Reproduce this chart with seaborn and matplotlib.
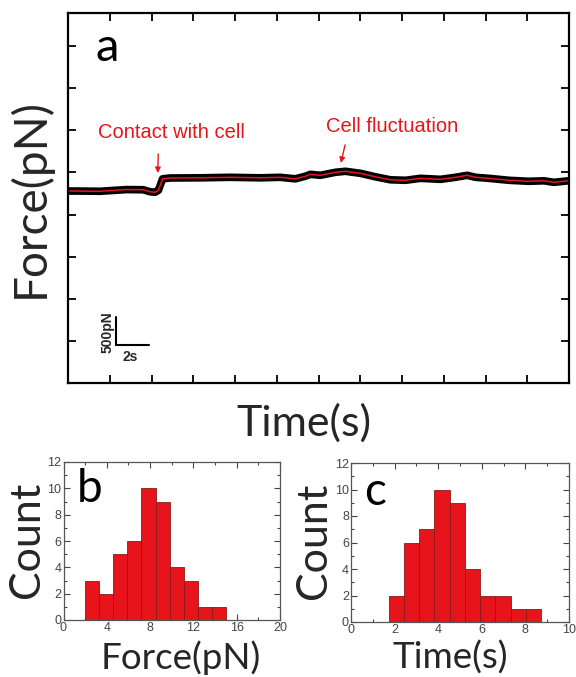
import numpy as np
import pandas as pd
import matplotlib
matplotlib.use("Agg")
import matplotlib.pyplot as plt
from matplotlib.ticker import MultipleLocator
import seaborn as sns

# ---- Panel a: force trace (smoothed level) ----
time_s = [0.0, 1.9, 3.5, 4.5, 4.9, 5.2, 5.4, 5.65, 6.1, 7.9, 9.7, 11.5, 12.7, 13.6,
          14.2, 14.5, 15.1, 16.0, 16.6, 17.5, 18.4, 19.3, 20.2, 21.1, 22.3, 23.2,
          23.9, 24.4, 25.2, 26.4, 27.6, 28.5, 29.1, 30.0]
force_pN = [3418, 3413, 3443, 3440, 3404, 3395, 3430, 3634, 3649, 3652, 3661, 3652,
            3661, 3634, 3680, 3714, 3697, 3750, 3768, 3732, 3670, 3617, 3608, 3643,
            3625, 3661, 3697, 3661, 3643, 3608, 3590, 3599, 3572, 3600]

# ---- Panel b: force histogram ----
force_edges = [2.0, 3.3, 4.6, 5.9, 7.2, 8.5, 9.8, 11.1, 12.4, 13.7, 15.0]
force_counts = [3, 2, 5, 6, 10, 9, 4, 3, 1, 1]

# ---- Panel c: time histogram ----
time_edges = [1.74, 2.44, 3.13, 3.83, 4.53, 5.22, 5.92, 6.62, 7.32, 8.02, 8.72]
time_counts = [2, 6, 7, 10, 9, 4, 2, 2, 1, 1]

sns.set_style("ticks")
plt.rcParams['font.family'] = ['Lato', 'DejaVu Sans']

W, H = 576, 677
fig = plt.figure(figsize=(W / 100, H / 100), dpi=100)

def box(l, t, r, b):
    return [l / W, 1 - b / H, (r - l) / W, (b - t) / H]

RED = '#e8141c'

# ================= Panel a =================
axa = fig.add_axes(box(68.3, 13.3, 569, 383.3))
df_a = pd.DataFrame({"t": time_s, "f": force_pN})
sns.lineplot(data=df_a, x="t", y="f", ax=axa, color="black", linewidth=5.5)
sns.lineplot(data=df_a, x="t", y="f", ax=axa, color=RED, linewidth=1.1)
axa.set_xlim(0, 30)
axa.set_ylim(0, 6576)
axa.xaxis.set_major_locator(MultipleLocator(2.5))
axa.yaxis.set_major_locator(MultipleLocator(750))
axa.tick_params(direction="in", length=6, width=1.3, top=True, right=True,
                labelbottom=False, labelleft=False, color="black")
for s in axa.spines.values():
    s.set_linewidth(1.6)
    s.set_color("black")
axa.set_xlabel("Time(s)", fontsize=31)
axa.xaxis.set_label_coords(0.47, -0.055, transform=axa.transAxes)
axa.xaxis.label.set_va("top")
axa.set_ylabel("Force(pN)", fontsize=33, labelpad=12)
axa.text(0.077, 0.907, "a", transform=axa.transAxes, fontsize=34,
         ha="center", va="center", color="black")

# annotations
axa.annotate("Contact with cell", xy=(5.36, 3737), xytext=(6.2, 4450),
             fontsize=14.5, color=RED, ha="center", va="center",
             family=["Liberation Sans"],
             arrowprops=dict(arrowstyle="-|>", color=RED, lw=1.0,
                             mutation_scale=8, shrinkA=6, shrinkB=0,
                             relpos=(0.41, 0.0)))
axa.annotate("Cell fluctuation", xy=(16.33, 3915), xytext=(19.4, 4560),
             fontsize=14.5, color=RED, ha="center", va="center",
             family=["Liberation Sans"],
             arrowprops=dict(arrowstyle="-|>", color=RED, lw=1.0,
                             mutation_scale=8, shrinkA=4, shrinkB=0,
                             relpos=(0.16, 0.0)))

# scale bar (500 pN, 2 s)
x0, y0 = 2.86, 675
axa.plot([x0, x0], [y0, y0 + 500], color="black", lw=1.5)
axa.plot([x0, x0 + 2], [y0, y0], color="black", lw=1.5)
axa.text(x0 - 0.5, y0 + 230, "500pN", rotation=90, ha="center", va="center",
         fontsize=10, fontweight="bold", family=["Liberation Sans"])
axa.text(x0 + 0.85, y0 - 200, "2s", ha="center", va="center",
         fontsize=10, fontweight="bold", family=["Liberation Sans"])

# ================= Histograms =================
def hist_panel(rect, edges, counts, xmax, xmajor, xminor, xlabel, xlab_x, letter, lpos):
    ax = fig.add_axes(rect)
    centers = [(edges[i] + edges[i + 1]) / 2 for i in range(len(counts))]
    sns.histplot(x=centers, weights=counts, bins=edges, ax=ax, color=RED,
                 edgecolor="#8a1a1a", linewidth=0.6, alpha=1.0)
    ax.set_xlim(0, xmax)
    ax.set_ylim(0, 12)
    ax.xaxis.set_major_locator(MultipleLocator(xmajor))
    ax.xaxis.set_minor_locator(MultipleLocator(xminor))
    ax.yaxis.set_major_locator(MultipleLocator(2))
    ax.yaxis.set_minor_locator(MultipleLocator(1))
    ax.tick_params(which="both", direction="in", top=True, right=True,
                   color="#444444", width=0.8)
    ax.tick_params(which="major", length=4, labelsize=9, labelcolor="#444444", pad=1.5)
    ax.tick_params(which="minor", length=2)
    for lab in ax.get_xticklabels() + ax.get_yticklabels():
        lab.set_family("Liberation Sans")
    for s in ax.spines.values():
        s.set_linewidth(0.9)
        s.set_color("#555555")
    ax.set_xlabel(xlabel, fontsize=26.5)
    ax.xaxis.label.set_va("bottom")
    ax.set_ylabel("Count", fontsize=31)
    ax.yaxis.label.set_va("center")
    ax.yaxis.label.set_ha("center")
    ax.yaxis.set_label_coords(-0.168, 0.51, transform=ax.transAxes)
    ax.text(lpos[0], lpos[1], letter, transform=ax.transAxes, fontsize=33,
            ha="center", va="center", color="black")
    # x label: bottom edge just inside the figure
    fig.canvas.draw()
    inv = ax.transAxes.inverted()
    y_ax = inv.transform((0, 2))[1]
    ax.xaxis.set_label_coords(xlab_x, y_ax, transform=ax.transAxes)
    return ax

hist_panel(box(63.5, 462, 280, 620), force_edges, force_counts, 20, 4, 2,
           "Force(pN)", 0.54, "b", (0.12, 0.83))
hist_panel(box(351, 463, 569, 622), time_edges, time_counts, 10, 2, 1,
           "Time(s)", 0.455, "c", (0.11, 0.82))

fig.savefig("out.png", dpi=100)
